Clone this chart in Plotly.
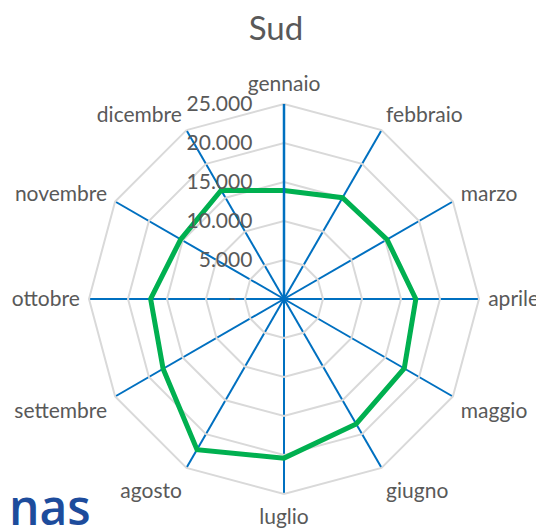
import plotly.graph_objects as go

months = ["gennaio", "febbraio", "marzo", "aprile", "maggio", "giugno",
          "luglio", "agosto", "settembre", "ottobre", "novembre", "dicembre"]
values = [13900, 15000, 15250, 16900, 17800, 18500,
          20400, 22300, 17900, 17100, 15300, 16100]
tick_vals = [0, 5000, 10000, 15000, 20000, 25000]
tick_text = ["-\u00a0\u00a0\u00a0", "5.000", "10.000", "15.000", "20.000", "25.000"]

OFF = 8  # default page body margin
W, H = 544 - OFF, 531 - OFF
cx, cy, R = 284 - OFF, 299 - OFF, 195

fig = go.Figure()
fig.add_trace(go.Scatterpolar(
    r=values + values[:1],
    theta=months + months[:1],
    mode="lines",
    line=dict(color="#00B050", width=5),
    hoverinfo="skip",
    showlegend=False,
))

fig.update_layout(
    width=W, height=H,
    margin=dict(l=0, r=0, t=0, b=0),
    paper_bgcolor="white",
    font=dict(family="Lato", color="#595959"),
    title=dict(text="Sud", x=(276 - OFF) / W, xanchor="center", y=1 - (28 - OFF) / H, yanchor="middle",
               font=dict(size=33, color="#595959", family="Lato")),
    polar=dict(
        domain=dict(x=[(cx - R) / W, (cx + R) / W], y=[(H - cy - R) / H, (H - cy + R) / H]),
        bgcolor="white",
        gridshape="linear",
        angularaxis=dict(
            direction="clockwise", rotation=90,
            categoryorder="array", categoryarray=months,
            showgrid=True, gridcolor="#0070C0", gridwidth=1.8,
            showline=True, linecolor="#D9D9D9", linewidth=2,
            ticks="outside", ticklen=4, tickcolor="rgba(0,0,0,0)",
            tickfont=dict(size=21, color="#595959", family="Lato"),
        ),
        radialaxis=dict(
            range=[0, 25000], angle=90, side="counterclockwise",
            tickvals=tick_vals, ticktext=tick_text, tickangle=90,
            showgrid=True, gridcolor="#D9D9D9", gridwidth=2,
            showline=True, linecolor="#0070C0", linewidth=2.5,
            ticks="outside", ticklen=23, tickcolor="rgba(0,0,0,0)",
            tickfont=dict(size=21, color="#595959", family="Lato"),
        ),
    ),
    annotations=[dict(
        text="nas", xref="paper", yref="paper", x=(93 - OFF) / W, y=-10 / H,
        xanchor="right", yanchor="bottom", showarrow=False,
        font=dict(size=48, color="#1D4C9C", family="Open Sans", weight=600),
    )],
)

fig.write_html("out.html")
